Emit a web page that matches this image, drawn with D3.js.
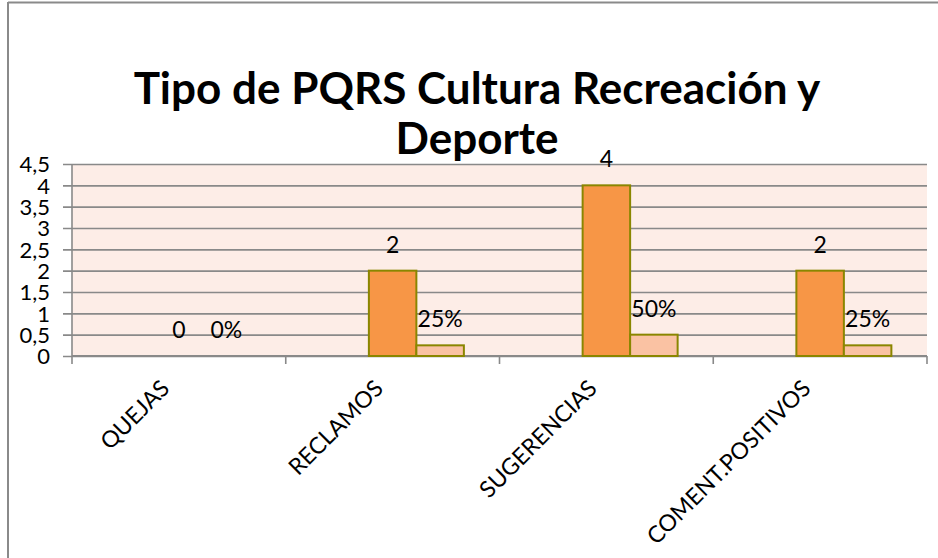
<!DOCTYPE html>
<html>
<head>
<meta charset="utf-8">
<script src="https://cdn.jsdelivr.net/npm/d3@7"></script>
<style>
    body { margin: 0; background: #fff; }
    text { font-family: Lato, "Open Sans", sans-serif; fill: #000; }
</style>
</head>
<body>
<div id="chart"></div>
<script>
// data
var categories = ["QUEJAS", "RECLAMOS", "SUGERENCIAS", "COMENT.POSITIVOS"];
var cantidad = [0, 2, 4, 2];
var porcentaje = [0, 0.25, 0.5, 0.25];
var porcentajeLabels = ["0%", "25%", "50%", "25%"];
var series = ["vacia", "cantidad", "porcentaje"];   // first series is empty in the original
var yTicks = [0, 0.5, 1, 1.5, 2, 2.5, 3, 3.5, 4, 4.5];
var titleLines = ["Tipo de PQRS Cultura Recreación y", "Deporte"];

var W = 938, H = 558;
var plot = { left: 72, right: 927, top: 164, bottom: 356 };

var svg = d3.select("#chart").append("svg")
    .attr("width", W)
    .attr("height", H);

// chart frame (only left and top edges show in the crop)
svg.append("line").attr("x1", 8).attr("x2", 8).attr("y1", 2).attr("y2", H)
    .attr("stroke", "#8a8a8a").attr("stroke-width", 2);
svg.append("line").attr("x1", 8).attr("x2", W).attr("y1", 2.5).attr("y2", 2.5)
    .attr("stroke", "#8a8a8a").attr("stroke-width", 2);

var x0 = d3.scaleBand()
    .domain(categories)
    .range([plot.left, plot.right])
    .paddingInner(0)
    .paddingOuter(0);

var x1 = d3.scaleBand()
    .domain(series)
    .range([0, x0.bandwidth()])
    .paddingInner(0)
    .paddingOuter(0.75);

var y = d3.scaleLinear()
    .domain([0, 4.5])
    .range([plot.bottom, plot.top]);

// plot background
svg.append("rect")
    .attr("x", plot.left)
    .attr("y", plot.top)
    .attr("width", plot.right - plot.left)
    .attr("height", plot.bottom - plot.top)
    .attr("fill", "#fdede7");

// gridlines + y ticks
var yAxis = svg.append("g")
    .attr("transform", "translate(" + plot.left + ",0)")
    .call(d3.axisLeft(y)
        .tickValues(yTicks)
        .tickSize(-(plot.right - plot.left))
        .tickSizeOuter(0)
        .tickPadding(22)
        .tickFormat(function(d) { return String(d).replace(".", ","); }));
yAxis.select(".domain").remove();
yAxis.selectAll(".tick line")
    .attr("x1", -9)
    .attr("stroke", "#898989")
    .attr("stroke-width", 1.6);
yAxis.selectAll(".tick text")
    .attr("x", -22)
    .attr("dy", "0.36em")
    .style("font-size", "22px")
    .style("font-family", "Lato, sans-serif");

// vertical axis line
svg.append("line")
    .attr("x1", plot.left).attr("x2", plot.left)
    .attr("y1", plot.top).attr("y2", plot.bottom)
    .attr("stroke", "#898989").attr("stroke-width", 1.6);

// bottom axis with ticks at band edges
var xAxis = svg.append("g")
    .attr("transform", "translate(0," + plot.bottom + ")");
xAxis.append("line")
    .attr("x1", plot.left).attr("x2", plot.right)
    .attr("stroke", "#898989").attr("stroke-width", 2);
var edges = categories.map(function(c) { return x0(c); }).concat([plot.right]);
xAxis.selectAll(".edge")
    .data(edges)
    .enter().append("line")
    .attr("class", "edge")
    .attr("x1", function(d) { return d; })
    .attr("x2", function(d) { return d; })
    .attr("y1", 0).attr("y2", 8)
    .attr("stroke", "#898989").attr("stroke-width", 1.6);

xAxis.selectAll(".cat")
    .data(categories)
    .enter().append("text")
    .attr("class", "cat")
    .attr("text-anchor", "end")
    .attr("transform", function(d) {
        return "translate(" + (x0(d) + x0.bandwidth() / 2 - 8) + ",34) rotate(-45)";
    })
    .style("font-size", "23px")
    .text(function(d) { return d; });

// bars
var rows = categories.map(function(c, i) {
    return { cat: c, cantidad: cantidad[i], porcentaje: porcentaje[i], pl: porcentajeLabels[i] };
});

var group = svg.selectAll(".grp")
    .data(rows)
    .enter().append("g")
    .attr("class", "grp")
    .attr("transform", function(d) { return "translate(" + x0(d.cat) + ",0)"; });

group.filter(function(d) { return d.cantidad > 0; })
    .append("rect")
    .attr("x", x1("cantidad"))
    .attr("y", function(d) { return y(d.cantidad); })
    .attr("width", x1.bandwidth())
    .attr("height", function(d) { return y(0) - y(d.cantidad); })
    .attr("fill", "#f79646")
    .attr("stroke", "#8a8600")
    .attr("stroke-width", 2);

group.filter(function(d) { return d.porcentaje > 0; })
    .append("rect")
    .attr("x", x1("porcentaje"))
    .attr("y", function(d) { return y(d.porcentaje); })
    .attr("width", x1.bandwidth())
    .attr("height", function(d) { return y(0) - y(d.porcentaje); })
    .attr("fill", "#fac2a3")
    .attr("stroke", "#8a8600")
    .attr("stroke-width", 2);

// data labels
group.append("text")
    .attr("x", x1("cantidad") + x1.bandwidth() / 2)
    .attr("y", function(d) { return y(d.cantidad) - 18; })
    .attr("text-anchor", "middle")
    .style("font-size", "23px")
    .text(function(d) { return d.cantidad; });

group.append("text")
    .attr("x", x1("porcentaje") + x1.bandwidth() / 2)
    .attr("y", function(d) { return y(d.porcentaje) - 18; })
    .attr("text-anchor", "middle")
    .style("font-size", "23px")
    .text(function(d) { return d.pl; });

// title, two lines
var title = svg.append("g");
title.selectAll("text")
    .data(titleLines)
    .enter().append("text")
    .attr("x", 477)
    .attr("y", function(d, i) { return 104 + i * 50; })
    .attr("text-anchor", "middle")
    .style("font-size", "44px")
    .style("font-weight", "bold")
    .text(function(d) { return d; });
</script>
</body>
</html>
